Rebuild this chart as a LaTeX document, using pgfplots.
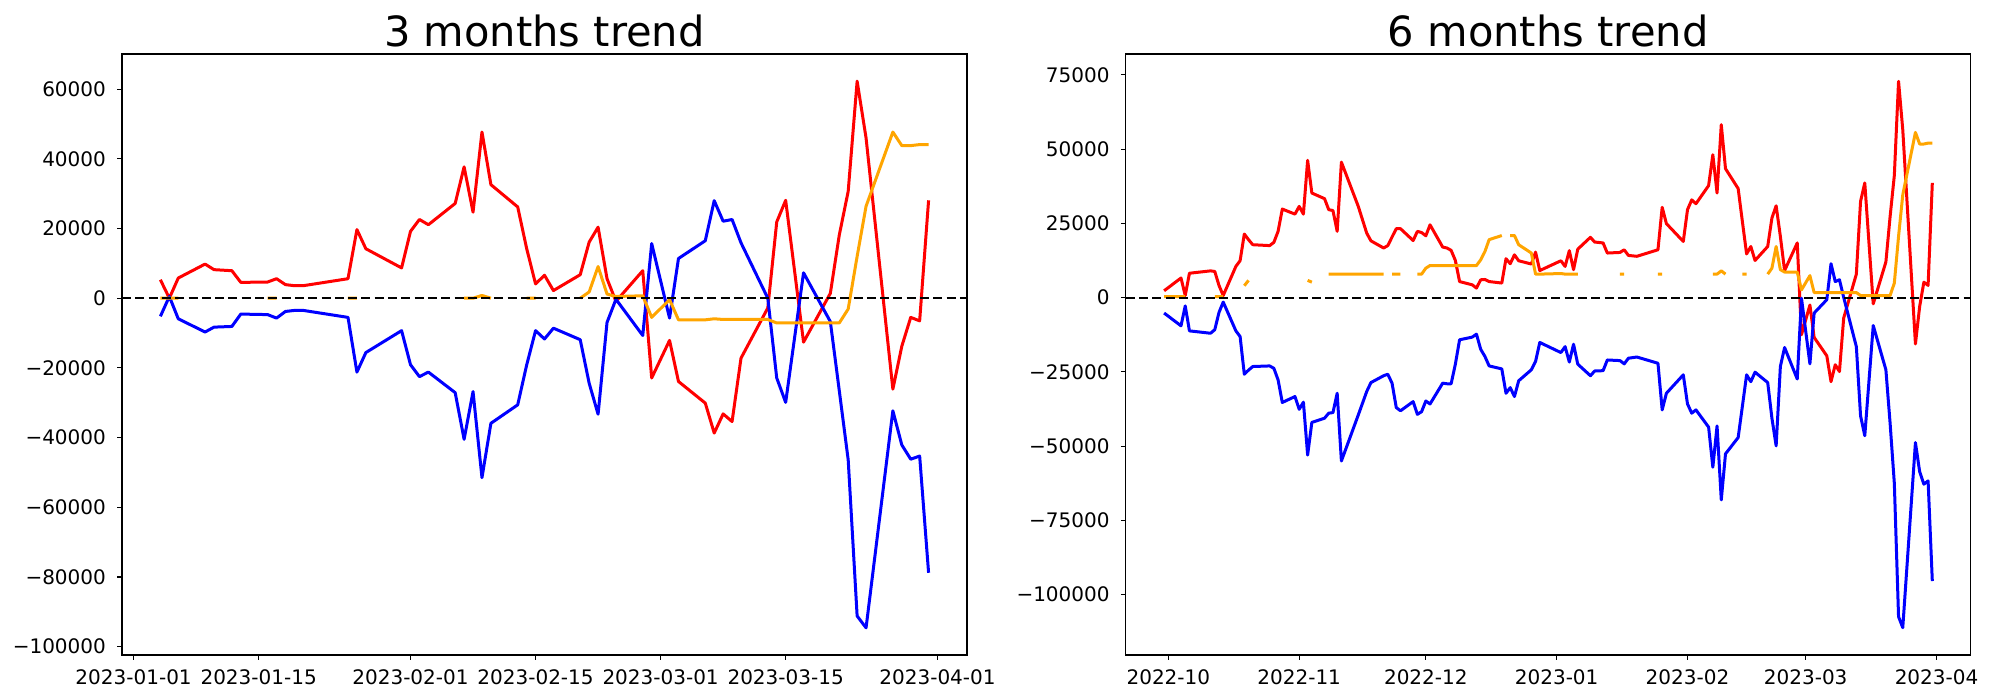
\documentclass[border=0pt]{standalone}
\usepackage{fontspec}
\setmainfont{DejaVu Sans}
\usepackage{pgfplots}
\usepackage{pgfplotstable}
\pgfplotsset{compat=1.18}
\definecolor{mplred}{RGB}{255,0,0}
\definecolor{mplblue}{RGB}{0,0,255}
\definecolor{mplorange}{RGB}{255,165,0}

% 3 months: day 0 = 2023-01-01
\pgfplotstableread{
d r b o
3 5300 -5200 0
4 0 500 0
5 5800 -5900 0
8 9800 -9700 nan
9 8200 -8300 nan
11 7900 -8100 nan
12 4550 -4550 nan
15 4650 -4700 0
16 5600 -5700 0
17 3900 -3800 nan
18 3600 -3500 nan
19 3600 -3500 nan
24 5600 -5500 0
25 19700 -21200 0
26 14200 -15600 nan
30 8700 -9300 nan
31 19200 -19100 nan
32 22600 -22500 nan
33 21100 -21200 nan
36 27200 -27100 nan
37 37700 -40500 0
38 24700 -26800 0
39 47700 -51500 800
40 32600 -35900 0
43 26200 -30600 nan
44 14300 -19200 0
45 4100 -9300 0
46 6600 -11700 nan
47 2200 -8600 nan
50 6750 -11900 0
51 16100 -24400 1800
52 20400 -33300 9100
53 5600 -6950 1200
54 -900 -300 500
57 7900 -10700 700
58 -22900 15700 -5500
60 -12100 -5700 -400
61 -23900 11400 -6200
64 -30100 16500 -6200
65 -38700 28000 -5900
66 -33200 22100 -6100
67 -35400 22600 -6100
68 -17200 15900 -6100
71 -2800 0 -6100
72 21900 -22900 -7100
73 28100 -29900 -7100
75 -12600 7300 -7100
78 1400 -6700 -7100
79 18100 -26500 -7100
80 30700 -46400 -3100
81 62300 -91200 12000
82 46000 -94600 26400
85 -26100 -32300 47700
86 -13800 -42100 43800
87 -5500 -46200 43800
88 -6500 -45300 44100
89 28100 -78800 44100
}\lefttab

% 6 months: day 0 = 2022-10-01
\pgfplotstableread{
d r b o
-1 2300 -5200 300
3 6600 -9500 300
4 700 -2800 300
5 8200 -11200 nan
10 9000 -12000 nan
11 8800 -10800 300
12 4100 -5000 300
13 700 -1500 300
16 10500 -11200 nan
17 12400 -13100 nan
18 21400 -25800 4000
19 19500 -24400 5800
20 17800 -23200 nan
24 17500 -23000 nan
25 18600 -23800 nan
26 22300 -27700 nan
27 29800 -35300 nan
30 28100 -33300 nan
31 30700 -37600 nan
32 28100 -35200 nan
33 46200 -53000 5800
34 35200 -42000 5200
37 33300 -40600 nan
38 29600 -38900 7900
39 29300 -38700 7900
40 22300 -32200 7900
41 45600 -55000 7900
45 30700 -39500 7900
47 21700 -31600 7900
48 19100 -28600 7900
51 16700 -26300 7900
52 17500 -25800 nan
53 20400 -28800 7900
54 23200 -37000 7900
55 23200 -38100 7900
58 19200 -35000 nan
59 22300 -39300 7900
60 21900 -38400 7900
61 20800 -34800 9900
62 24500 -35800 10800
65 17000 -28800 10800
66 16700 -29000 10800
67 15900 -29000 10800
68 12500 -22400 10800
69 5400 -14200 10800
72 4300 -13300 10800
73 3200 -12300 10800
74 6000 -17400 12700
75 6100 -19800 15500
76 5400 -23000 19500
79 4900 -24000 20900
80 13100 -32200 nan
81 11400 -30300 20900
82 14400 -33300 20900
83 12400 -28000 17800
86 11300 -24300 15000
87 15300 -21500 7900
88 9100 -15100 7900
93 12400 -18500 8100
94 10500 -16500 7900
95 15800 -21700 7900
96 9400 -15700 7900
97 16300 -22400 7900
100 20300 -26300 nan
101 18700 -24700 nan
103 18400 -24600 nan
104 15000 -21000 nan
107 15200 -21200 7900
108 16100 -22300 7900
109 14200 -20400 nan
111 13900 -20000 nan
116 16100 -22100 7900
117 30400 -37800 7900
118 24900 -32200 nan
122 18900 -26000 nan
123 29600 -35800 nan
124 32900 -38900 nan
125 31600 -37800 nan
128 37700 -43600 nan
129 48100 -57100 7900
130 35200 -43200 7900
131 58200 -68100 9000
132 43400 -52600 7900
135 36700 -47100 nan
136 25600 -36600 7900
137 14700 -26000 7900
138 17200 -28300 nan
139 12500 -25100 nan
142 17200 -28600 7900
143 26800 -40600 9900
144 30900 -49900 17200
145 20600 -23200 9400
146 9100 -16800 8600
149 18400 -27400 8600
150 -12500 -200 2600
152 -2500 -22300 7400
153 -13400 -5200 1700
156 -19600 -700 1700
157 -28300 11400 1700
158 -22600 5400 1700
159 -24900 6000 1700
160 -6900 100 1700
163 7900 -16500 1700
164 32400 -39800 700
165 38600 -46500 700
167 -2100 -9400 700
170 12000 -24300 700
171 27300 -42300 700
172 41100 -62500 4900
173 72800 -107400 20600
174 56500 -111100 34600
177 -15600 -48800 55600
178 -3000 -58600 51700
179 5200 -62800 51700
180 4100 -61700 52000
181 38600 -95400 52000
}\righttab

\pgfplotsset{
  mpl/.style={
    scale only axis, width=422.5pt, height=300.5pt, anchor=south west,
    axis line style={line width=0.55pt},
    tick align=outside, major tick length=2.45pt,
    tick style={black, line width=0.55pt},
    xtick pos=lower, ytick pos=left,
    scaled x ticks=false, scaled y ticks=false,
    tick label style={font=\fontsize{10}{12}\selectfont, inner sep=0pt},
    xticklabel style={anchor=north, yshift=-4.9pt},
    yticklabel style={anchor=east, xshift=-5.4pt},
    title style={font=\fontsize{20.8}{24}\selectfont, anchor=base, at={(0.5,1)}, yshift=-2.2pt, inner sep=0pt},
    unbounded coords=jump,
  },
  ser/.style={line width=1.5pt, line join=round},
}

\begin{document}
\begin{tikzpicture}
\path[use as bounding box] (0,0) rectangle (1000pt,350pt);
\begin{axis}[mpl, at={(61pt,22.5pt)},
  xmin=-1.3, xmax=93.3, ymin=-102400, ymax=70100,
  xtick={0,14,31,45,59,73,90},
  xticklabels={2023-01-01,2023-01-15,2023-02-01,2023-02-15,2023-03-01,2023-03-15,2023-04-01},
  ytick={-100000,-80000,-60000,-40000,-20000,0,20000,40000,60000},
  yticklabels={−100000,−80000,−60000,−40000,−20000,0,20000,40000,60000},
  title={3 months trend}]
\addplot[ser, mplred] table[x=d, y=r] {\lefttab};
\addplot[ser, mplblue] table[x=d, y=b] {\lefttab};
\addplot[ser, mplorange] table[x=d, y=o] {\lefttab};
\addplot[black, line width=1.05pt, dash pattern=on 4.5pt off 2.15pt] coordinates {(-1.3,0) (93.3,0)};
\end{axis}
\begin{axis}[mpl, at={(562.85pt,22.5pt)},
  xmin=-10.1, xmax=190.1, ymin=-120300, ymax=82000,
  xtick={0,31,61,92,123,151,182},
  xticklabels={2022-10,2022-11,2022-12,2023-01,2023-02,2023-03,2023-04},
  ytick={-100000,-75000,-50000,-25000,0,25000,50000,75000},
  yticklabels={−100000,−75000,−50000,−25000,0,25000,50000,75000},
  title={6 months trend}]
\addplot[ser, mplred] table[x=d, y=r] {\righttab};
\addplot[ser, mplblue] table[x=d, y=b] {\righttab};
\addplot[ser, mplorange] table[x=d, y=o] {\righttab};
\addplot[black, line width=1.05pt, dash pattern=on 4.5pt off 2.15pt] coordinates {(-10.1,0) (190.1,0)};
\end{axis}
\end{tikzpicture}
\end{document}
